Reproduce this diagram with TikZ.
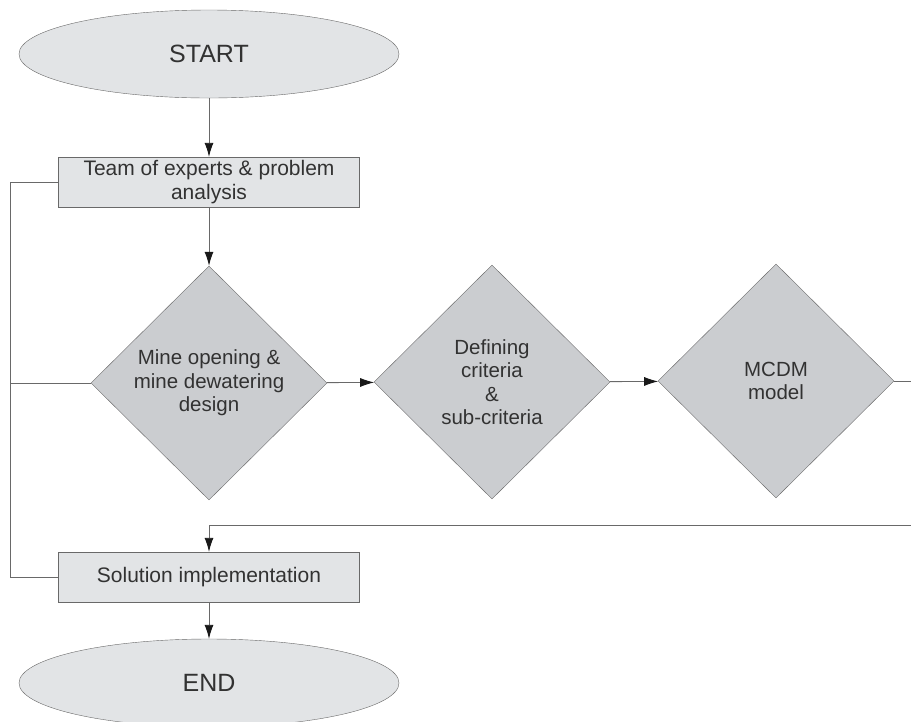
\documentclass[tikz,border=0pt]{standalone}
\usepackage{fontspec}
\setmainfont{Liberation Sans}
\usetikzlibrary{shapes.geometric,arrows.meta}

\definecolor{lightfill}{RGB}{226,228,230}
\definecolor{darkfill}{RGB}{203,205,208}
\definecolor{edgegray}{RGB}{105,105,105}
\definecolor{textgray}{RGB}{50,50,50}

\tikzset{
  terminal/.style={ellipse,draw=edgegray,fill=lightfill,minimum width=380pt,minimum height=88pt,inner sep=0pt,font=\fontsize{25}{28}\selectfont,text=textgray},
  stepbox/.style={rectangle,draw=edgegray,fill=lightfill,minimum width=301pt,minimum height=50pt,inner sep=0pt,align=center,font=\fontsize{21}{24}\selectfont,text=textgray},
  decision/.style={diamond,draw=edgegray,fill=darkfill,minimum width=236pt,minimum height=234pt,inner sep=0pt,align=center,font=\fontsize{20.5}{23.5}\selectfont,text=textgray},
  link/.style={draw=edgegray,line width=0.9pt},
  flow/.style={link,-{Latex[length=14pt,width=9pt,color=black!90]}}
}

\begin{document}
\begin{tikzpicture}[x=1pt,y=-1pt]
\useasboundingbox[fill=white] (0,0) rectangle (911,721);
\node [terminal] (start) at (209,54) {START};
\node [stepbox] (team) at (209,182) {Team of experts \& problem\\analysis};
\node [decision] (mine) at (209,383) {Mine opening \&\\mine dewatering\\design};
\node [decision] (crit) at (492,382) {Defining\\criteria\\\&\\sub-criteria};
\node [decision] (mcdm) at (776,381) {MCDM\\model};
\node [stepbox] (sol) at (209,577) {Solution implementation};
\node [terminal] (end) at (209,683) {END};
% main flow
\draw [flow] (start) -- (team);
\draw [flow] (team) -- (mine);
\draw [flow] (mine) -- (crit);
\draw [flow] (crit) -- (mcdm);
\coordinate (edge) at (930,381);
\coordinate (back) at (930,525);
\draw [flow] (mcdm.east) -- (edge) -- (back) -| (sol.north);
\draw [flow] (sol) -- (end);
% loop on the left
\coordinate (lft) at (10,0);
\draw [link] (team.west) -- (team.west -| lft) |- (sol.west);
\draw [link] (mine.west) -- (mine.west -| lft);
\end{tikzpicture}
\end{document}
